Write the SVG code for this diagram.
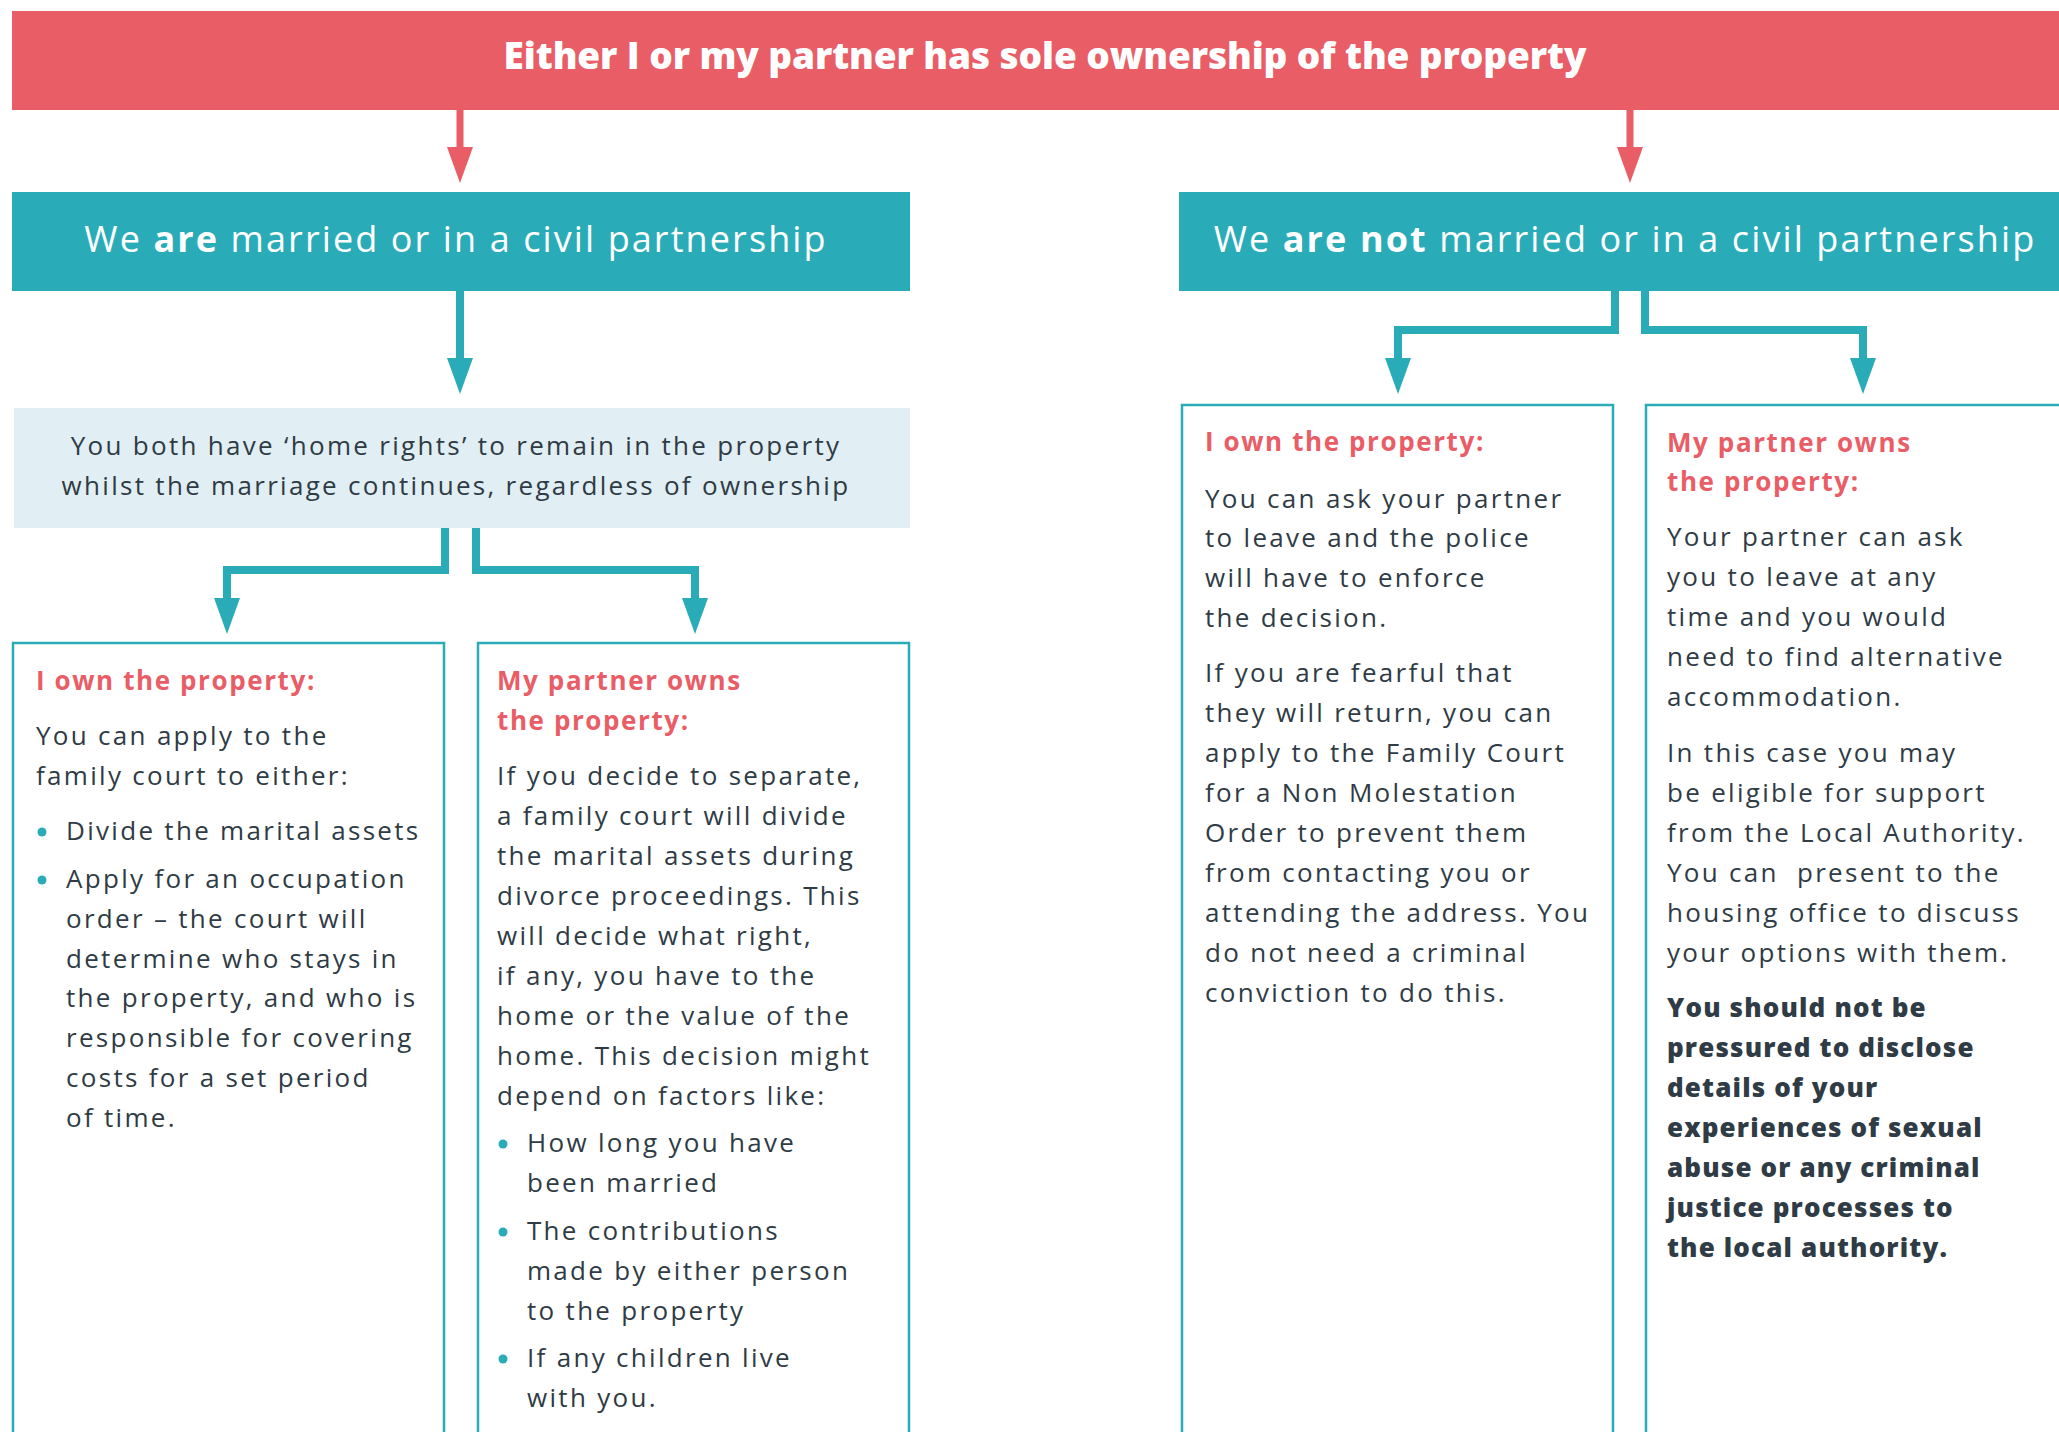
<svg xmlns="http://www.w3.org/2000/svg" width="2059" height="1432" viewBox="0 0 2059 1432">
<style>
.title{font-family:"Open Sans",sans-serif;font-weight:800;font-size:37px;fill:#fff;letter-spacing:-0.1px}
.head{font-family:"Open Sans",sans-serif;font-weight:400;font-size:36px;fill:#fff;letter-spacing:2.1px}
.b{font-weight:700}
.body{font-family:"Open Sans",sans-serif;font-size:26px;fill:#2f3b45;letter-spacing:2.3px}
.red{font-family:"Open Sans",sans-serif;font-weight:700;font-size:26px;fill:#e95d66;letter-spacing:1.6px}
.bold{font-family:"Open Sans",sans-serif;font-weight:800;font-size:26px;fill:#2f3b45;letter-spacing:1.15px}
.box{fill:#fff;stroke:#2aacb8;stroke-width:2.5}
.tl{fill:none;stroke:#2aacb8;stroke-width:8}
.rl{fill:none;stroke:#e95d66;stroke-width:7}
.dot{fill:#2aacb8}
</style>
<defs>
<marker id="ta" viewBox="0 0 36 26" refX="0" refY="13" markerWidth="36" markerHeight="26" markerUnits="userSpaceOnUse" orient="auto"><path d="M0,0 L36,13 L0,26 z" fill="#2aacb8"/></marker>
<marker id="ra" viewBox="0 0 36 26" refX="0" refY="13" markerWidth="36" markerHeight="26" markerUnits="userSpaceOnUse" orient="auto"><path d="M0,0 L36,13 L0,26 z" fill="#e95d66"/></marker>
</defs>
<rect width="2059" height="1432" fill="#fff"/>

<g id="connectors">
<path class="rl" d="M460,110 V147" marker-end="url(#ra)"/>
<path class="rl" d="M1630,110 V147" marker-end="url(#ra)"/>
<path class="tl" d="M460,291 V358" marker-end="url(#ta)"/>
<path class="tl" d="M445,528 V570 H227 V598" marker-end="url(#ta)"/>
<path class="tl" d="M476,528 V570 H695 V598" marker-end="url(#ta)"/>
<path class="tl" d="M1615,291 V330 H1398 V358" marker-end="url(#ta)"/>
<path class="tl" d="M1645,291 V330 H1863 V358" marker-end="url(#ta)"/>
</g>

<g id="title">
<rect x="12" y="11" width="2047" height="99" fill="#e95d66"/>
<text class="title" x="1045" y="69" text-anchor="middle">Either I or my partner has sole ownership of the property</text>
</g>

<g id="married">
<rect x="12" y="192" width="898" height="99" fill="#2aacb8"/>
<text class="head" x="456" y="252" text-anchor="middle">We <tspan class="b">are</tspan> married or in a civil partnership</text>
</g>

<g id="not-married">
<rect x="1179" y="192" width="880" height="99" fill="#2aacb8"/>
<text class="head" x="1625" y="252" text-anchor="middle">We <tspan class="b">are not</tspan> married or in a civil partnership</text>
</g>

<g id="home-rights">
<rect x="14" y="408" width="896" height="120" fill="#e1eef3"/>
<text class="body" text-anchor="middle"><tspan x="456" y="455">You both have ‘home rights’ to remain in the property</tspan><tspan x="456" y="495">whilst the marriage continues, regardless of ownership</tspan></text>
</g>

<g id="married-i-own">
<rect class="box" x="13" y="643" width="431" height="820"/>
<text class="red" x="36" y="690">I own the property:</text>
<text class="body"><tspan x="36" y="745">You can apply to the</tspan><tspan x="36" y="785">family court to either:</tspan></text>
<circle class="dot" cx="42" cy="832" r="4.5"/>
<circle class="dot" cx="42" cy="880" r="4.5"/>
<text class="body"><tspan x="66" y="840">Divide the marital assets</tspan><tspan x="66" y="888">Apply for an occupation</tspan><tspan x="66" y="928">order – the court will</tspan><tspan x="66" y="968">determine who stays in</tspan><tspan x="66" y="1007">the property, and who is</tspan><tspan x="66" y="1047">responsible for covering</tspan><tspan x="66" y="1087">costs for a set period</tspan><tspan x="66" y="1127">of time.</tspan></text>
</g>

<g id="married-partner-owns">
<rect class="box" x="478" y="643" width="431" height="820"/>
<text class="red"><tspan x="497" y="690">My partner owns</tspan><tspan x="497" y="730">the property:</tspan></text>
<text class="body"><tspan x="497" y="785">If you decide to separate,</tspan><tspan x="497" y="825">a family court will divide</tspan><tspan x="497" y="865">the marital assets during</tspan><tspan x="497" y="905">divorce proceedings. This</tspan><tspan x="497" y="945">will decide what right,</tspan><tspan x="497" y="985">if any, you have to the</tspan><tspan x="497" y="1025">home or the value of the</tspan><tspan x="497" y="1065">home. This decision might</tspan><tspan x="497" y="1105">depend on factors like:</tspan></text>
<circle class="dot" cx="503" cy="1144" r="4.5"/>
<circle class="dot" cx="503" cy="1232" r="4.5"/>
<circle class="dot" cx="503" cy="1359" r="4.5"/>
<text class="body"><tspan x="527" y="1152">How long you have</tspan><tspan x="527" y="1192">been married</tspan><tspan x="527" y="1240">The contributions</tspan><tspan x="527" y="1280">made by either person</tspan><tspan x="527" y="1320">to the property</tspan><tspan x="527" y="1367">If any children live</tspan><tspan x="527" y="1407">with you.</tspan></text>
</g>

<g id="not-married-i-own">
<rect class="box" x="1182" y="405" width="431" height="1060"/>
<text class="red" x="1205" y="451">I own the property:</text>
<text class="body"><tspan x="1205" y="508">You can ask your partner</tspan><tspan x="1205" y="547">to leave and the police</tspan><tspan x="1205" y="587">will have to enforce</tspan><tspan x="1205" y="627">the decision.</tspan><tspan x="1205" y="682">If you are fearful that</tspan><tspan x="1205" y="722">they will return, you can</tspan><tspan x="1205" y="762">apply to the Family Court</tspan><tspan x="1205" y="802">for a Non Molestation</tspan><tspan x="1205" y="842">Order to prevent them</tspan><tspan x="1205" y="882">from contacting you or</tspan><tspan x="1205" y="922">attending the address. You</tspan><tspan x="1205" y="962">do not need a criminal</tspan><tspan x="1205" y="1002">conviction to do this.</tspan></text>
</g>

<g id="not-married-partner-owns">
<rect class="box" x="1646" y="405" width="440" height="1060"/>
<text class="red"><tspan x="1667" y="452">My partner owns</tspan><tspan x="1667" y="491">the property:</tspan></text>
<text class="body"><tspan x="1667" y="546">Your partner can ask</tspan><tspan x="1667" y="586">you to leave at any</tspan><tspan x="1667" y="626">time and you would</tspan><tspan x="1667" y="666">need to find alternative</tspan><tspan x="1667" y="706">accommodation.</tspan><tspan x="1667" y="762">In this case you may</tspan><tspan x="1667" y="802">be eligible for support</tspan><tspan x="1667" y="842">from the Local Authority.</tspan></text>
<text class="body" xml:space="preserve" x="1667" y="882">You can  present to the</text>
<text class="body"><tspan x="1667" y="922">housing office to discuss</tspan><tspan x="1667" y="962">your options with them.</tspan></text>
<text class="bold"><tspan x="1667" y="1017">You should not be</tspan><tspan x="1667" y="1057">pressured to disclose</tspan><tspan x="1667" y="1097">details of your</tspan><tspan x="1667" y="1137">experiences of sexual</tspan><tspan x="1667" y="1177">abuse or any criminal</tspan><tspan x="1667" y="1217">justice processes to</tspan><tspan x="1667" y="1257">the local authority.</tspan></text>
</g>
</svg>
